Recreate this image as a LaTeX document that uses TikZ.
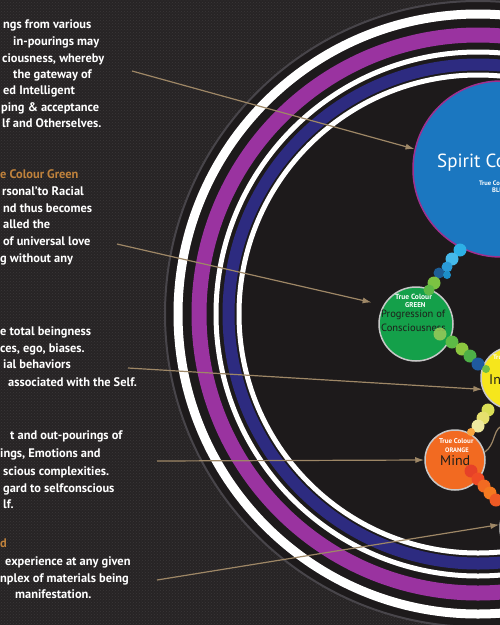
\documentclass[tikz,border=0pt]{standalone}
\usepackage{fontspec}
\setmainfont{PT Sans}
\usetikzlibrary{arrows.meta,patterns}
\definecolor{bg}{HTML}{272425}
\definecolor{texc}{HTML}{3A3738}
\definecolor{innerbg}{HTML}{1D1A1B}
\definecolor{glowc}{HTML}{48454A}
\definecolor{ringpurple}{HTML}{9A33A0}
\definecolor{ringnavy}{HTML}{2D2B80}
\definecolor{arrc}{HTML}{9E8766}
\definecolor{headc}{HTML}{C0823C}
\definecolor{spiritblue}{HTML}{1B77C0}
\definecolor{spiritedge}{HTML}{A0308E}
\definecolor{greenball}{HTML}{14A04A}
\definecolor{yellowball}{HTML}{F6E61C}
\definecolor{orangeball}{HTML}{F26A21}
\definecolor{redball}{HTML}{E0312A}
\definecolor{ballrim}{HTML}{C8C8C8}
\definecolor{darktext}{HTML}{1E1E1A}
\newcommand\chaindot[5]{\definecolor{dotcol}{HTML}{#1}\fill[dotcol,opacity=#5] (#2,#3) circle[radius=#4];}
\begin{document}
\begin{tikzpicture}[x=1pt,y=-1pt,
  para/.style={anchor=base west, text=white, inner sep=0pt, font=\fontsize{12.4}{14}\selectfont\bfseries},
  headline/.style={para, text=headc},
  arr/.style={draw=arrc, line width=1.2pt, -{Latex[length=9pt,width=6pt]}},
  ball/.style={circle, inner sep=0pt, draw=ballrim, line width=1.5pt},
  tiny/.style={anchor=base west, text=white, inner sep=0pt, font=\fontsize{7}{8}\selectfont\bfseries},
  inlabel/.style={anchor=base west, text=darktext, inner sep=0pt}
]
\useasboundingbox (0,0) rectangle (500,625);
\clip (0,0) rectangle (500,625);
\fill[bg] (0,0) rectangle (500,625);
\fill[pattern=crosshatch dots, pattern color=texc] (0,0) rectangle (500,625);

% rings
\fill[innerbg] (478,314) circle[radius=313];
\draw[glowc, line width=2pt] (478,314) circle[radius=313];
\draw[white, line width=9pt] (478,314) circle[radius=300];
\draw[ringpurple, line width=15pt] (478,314) circle[radius=279];
\draw[white, line width=5pt] (478,314) circle[radius=262];
\draw[ringnavy, line width=12pt] (478,314) circle[radius=249.5];
\draw[white, line width=5pt] (478,314) circle[radius=239];

% circles
\node[circle, inner sep=0pt, minimum size=176pt, fill=spiritblue, draw=spiritedge, line width=1.5pt] (spirit) at (501,169) {};
\node[ball, minimum size=74pt, fill=greenball] (green) at (416,324) {};
\node[ball, minimum size=62pt, fill=yellowball] (yellow) at (512,378) {};
\node[ball, minimum size=60pt, fill=orangeball] (mind) at (455,460) {};
\node[ball, minimum size=76pt, fill=redball] (red) at (538,528) {};

% circle labels
\node[anchor=base west, text=white, inner sep=0pt, font=\fontsize{19}{22}\selectfont] (spiritlbl) at (437,167) {Spirit Consciousness};
\node[tiny, font=\fontsize{6.5}{7}\selectfont\bfseries] (spiritc1) at (479,185) {True Colour};
\node[tiny, font=\fontsize{6.5}{7}\selectfont\bfseries] (spiritc2) at (492,192) {BLUE};

\node[tiny, font=\fontsize{7.5}{8}\selectfont\bfseries] (greenc1) at (395,299) {True Colour};
\node[tiny] (greenc2) at (405,307) {GREEN};
\node[inlabel, font=\fontsize{10.5}{12}\selectfont] (greenl1) at (381,317) {Progression of};
\node[inlabel, font=\fontsize{10.5}{12}\selectfont] (greenl2) at (381,331) {Consciousness};

\node[tiny, font=\fontsize{6.5}{7}\selectfont\bfseries] (yellowc1) at (493,359) {True Colour};
\node[inlabel, font=\fontsize{14}{16}\selectfont] (yellowl) at (489,384) {Individual};

\node[tiny] (mindc1) at (439,443) {True Colour};
\node[tiny, font=\fontsize{6.5}{7}\selectfont\bfseries] (mindc2) at (445,452) {ORANGE};
\node[inlabel, font=\fontsize{14}{15}\selectfont] (mindl) at (440,465) {Mind};

% dot chains
\chaindot{2DB0E6}{460}{250}{6.5}{1}
\chaindot{45B9EA}{452}{259}{6.5}{1}
\chaindot{2A9AD6}{447}{267}{5.5}{1}
\chaindot{1D5E96}{439}{273}{5.5}{1}
\chaindot{1C8FC9}{447}{275}{4}{1}
\chaindot{7CC242}{434}{283}{6.5}{1}
\chaindot{5DB846}{429}{290}{5.5}{1}

\chaindot{9BCB5A}{440}{334}{6.5}{.85}
\chaindot{5DBB46}{452}{342}{6.5}{1}
\chaindot{8CC63F}{462}{349}{6.5}{1}
\chaindot{4DAF47}{470}{356}{6.5}{1}
\chaindot{1F5A9E}{478}{364}{6.5}{1}
\chaindot{6FBE44}{486}{369}{4}{1}

\chaindot{D9DE55}{488}{410}{6.5}{1}
\chaindot{E6E06E}{483}{418}{6.5}{1}
\chaindot{EEE9A0}{478}{426}{6.5}{1}
\chaindot{F7A540}{471}{432}{4}{1}

\chaindot{E53A2A}{471}{471}{6.5}{.85}
\chaindot{EF4B26}{478}{479}{6.5}{1}
\chaindot{F26A22}{484}{486}{6.5}{1}
\chaindot{F47A20}{490}{493}{6.5}{1}
\chaindot{EE5A24}{496}{500}{6.5}{1}

% tan curve near mind
\coordinate (curveend) at (500,427);
\draw[arrc, line width=1.2pt] (mind.15) .. controls (495,445) and (493,432) .. (curveend);

% arrows
\coordinate (t1) at (132,71);
\coordinate (t2) at (117,244);
\coordinate (t3) at (128,368);
\coordinate (t4) at (157,461);
\coordinate (t5) at (157,580);
\draw[arr] (t1) -- (spirit.167);
\draw[arr, shorten >=12pt] (t2) -- (green.150);
\draw[arr] (t3) -- (yellow.201);
\draw[arr] (t4) -- (mind.west);
\draw[arr] (t5) -- (red.175);

% texts block 1
\node[para] (a1) at (3,28) {ngs from various};
\node[para] (a2) at (13,45) {in-pourings may};
\node[para] (a3) at (2,62) {ciousness, whereby};
\node[para] (a4) at (13,78) {the gateway of};
\node[para] (a5) at (3,94) {ed Intelligent};
\node[para] (a6) at (1,111) {ping \& acceptance};
\node[para] (a7) at (2,127) {lf and Otherselves.};
% block 2
\node[headline] (b0) at (0,178) {e Colour Green};
\node[para] (b1) at (2,195) {rsonal’to Racial};
\node[para] (b2) at (3,212) {nd thus becomes};
\node[para] (b3) at (3,228) {alled the};
\node[para] (b4) at (3,245) {of universal love};
\node[para] (b5) at (0,262) {g without any};
% block 3
\node[para] (c1) at (0,335) {e total beingness};
\node[para] (c2) at (0,352) {ces, ego, biases.};
\node[para] (c3) at (3,368) {ial behaviors};
\node[para] (c4) at (8,386) {associated with the Self.};
% block 4
\node[para] (d1) at (10,439) {t and out-pourings of};
\node[para] (d2) at (0,457) {ings, Emotions and};
\node[para] (d3) at (3,475) {scious complexities.};
\node[para] (d4) at (3,492) {gard to selfconscious};
\node[para] (d5) at (3,508) {lf.};
% block 5
\node[headline] (e0) at (0,547) {d};
\node[para] (e1) at (5,565) {experience at any given};
\node[para] (e2) at (0,582) {nplex of materials being};
\node[para] (e3) at (15,598) {manifestation.};
\end{tikzpicture}
\end{document}
